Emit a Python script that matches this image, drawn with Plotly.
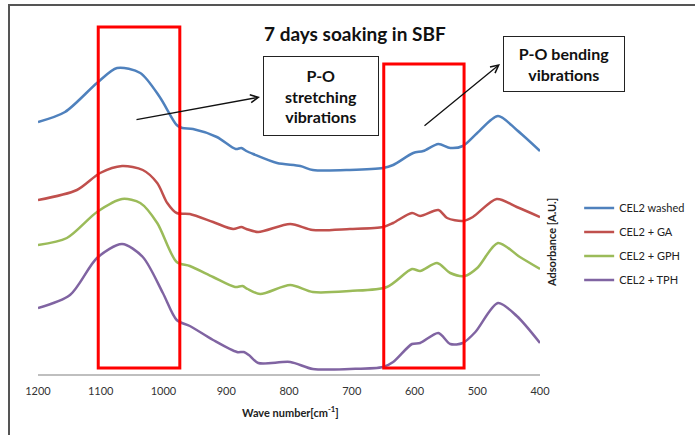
import plotly.graph_objects as go

# ---- data (wavenumber in cm-1, absorbance in arbitrary units, offset stacked) ----
wn_washed = [1200, 1157, 1106, 1074, 1037, 1006, 979, 970, 953, 915, 885, 876, 868, 857, 819, 782, 762, 703, 650, 634, 602, 586, 562, 543, 523, 500, 467, 437, 400]
a_washed = [2.52, 2.62, 2.91, 3.06, 3.01, 2.77, 2.49, 2.46, 2.45, 2.37, 2.25, 2.26, 2.23, 2.20, 2.11, 2.08, 2.04, 2.04, 2.06, 2.09, 2.21, 2.23, 2.30, 2.26, 2.28, 2.41, 2.58, 2.44, 2.23]

wn_ga = [1200, 1138, 1101, 1066, 1033, 1010, 994, 979, 958, 921, 889, 876, 868, 849, 798, 762, 703, 650, 634, 604, 591, 562, 548, 523, 507, 469, 437, 400]
a_ga = [1.74, 1.84, 2.01, 2.08, 2.04, 1.91, 1.71, 1.61, 1.60, 1.52, 1.45, 1.47, 1.45, 1.42, 1.50, 1.44, 1.45, 1.47, 1.51, 1.61, 1.58, 1.64, 1.56, 1.53, 1.57, 1.75, 1.67, 1.57]

wn_gph = [1200, 1154, 1106, 1066, 1037, 1010, 979, 958, 921, 886, 874, 866, 846, 798, 762, 703, 644, 604, 591, 564, 543, 520, 500, 467, 432, 400]
a_gph = [1.29, 1.36, 1.62, 1.75, 1.71, 1.51, 1.12, 1.08, 0.97, 0.87, 0.88, 0.85, 0.80, 0.89, 0.82, 0.83, 0.87, 1.05, 1.03, 1.11, 1.01, 0.98, 1.06, 1.31, 1.17, 1.05]

wn_tph = [1200, 1149, 1106, 1066, 1033, 1001, 979, 958, 921, 883, 872, 864, 849, 798, 762, 703, 650, 634, 604, 591, 562, 543, 523, 503, 467, 437, 400]
a_tph = [0.66, 0.79, 1.16, 1.30, 1.17, 0.81, 0.54, 0.48, 0.34, 0.22, 0.22, 0.19, 0.11, 0.12, 0.05, 0.05, 0.07, 0.12, 0.30, 0.31, 0.41, 0.30, 0.31, 0.42, 0.71, 0.58, 0.31]

series_names = ["CEL2 washed", "CEL2 + GA", "CEL2 + GPH", "CEL2 + TPH"]
series_x = [wn_washed, wn_ga, wn_gph, wn_tph]
series_y = [a_washed, a_ga, a_gph, a_tph]
colors = ["#4F81BD", "#C0504D", "#9BBB59", "#8064A2"]

tick_vals = [1200, 1100, 1000, 900, 800, 700, 600, 500, 400]
tick_text = ["1200", "1100", "1000", "900", "800", "700", "600", "500", "400"]

title_text = "7 days soaking in SBF"
x_title = "Wave number[cm<sup>-1</sup>]"
y_title = "Adsorbance [A.U.]"

FONT = "Lato, 'Open Sans', sans-serif"

fig = go.Figure()
for name, xs, ys, c in zip(series_names, series_x, series_y, colors):
    fig.add_trace(go.Scatter(x=xs, y=ys, mode="lines", name=name, legendgroup=name,
                             line=dict(color=c, width=2.5, shape="spline", smoothing=0.8)))

fig.update_layout(
    width=695, height=435,
    margin=dict(l=38, r=155, t=20, b=61, autoexpand=False),
    paper_bgcolor="white", plot_bgcolor="white",
    font=dict(family=FONT, color="#222"),
    showlegend=True,
    legend=dict(x=1.078, y=0.51, xanchor="left", yanchor="top",
                font=dict(size=11, family=FONT, color="#222"),
                itemwidth=30, tracegroupgap=5, bgcolor="rgba(0,0,0,0)"),
    xaxis=dict(range=[1200, 400], tickvals=tick_vals, ticktext=tick_text,
               showgrid=False, zeroline=False, showline=True, linecolor="#BFBFBF",
               linewidth=1.5, ticks="", tickfont=dict(size=11, color="#333"),
               ticklabelstandoff=6),
    yaxis=dict(range=[0, 3.54], visible=False),
)

# red highlight boxes
fig.add_shape(type="rect", xref="x", yref="paper", x0=1104, x1=974, y0=(374-368)/354, y1=(374-27)/354,
              line=dict(color="#FF0000", width=3))
fig.add_shape(type="rect", xref="x", yref="paper", x0=649, x1=521, y0=(374-368)/354, y1=(374-64)/354,
              line=dict(color="#FF0000", width=3))

# outer frame
fig.add_shape(type="rect", xref="paper", yref="paper", x0=(9-38)/502, x1=(702-38)/502,
              y0=(374-445)/354, y1=(374-5)/354, line=dict(color="#555", width=2))

# title
fig.add_annotation(xref="paper", yref="paper", x=(355-38)/502, y=(374-33)/354, text="<b>" + title_text + "</b>",
                   showarrow=False, font=dict(size=19, family=FONT, color="#111"), xanchor="center", yanchor="middle")
# x axis title
fig.add_annotation(xref="paper", yref="paper", x=(290-38)/502, y=(374-411)/354, text="<b>" + x_title + "</b>",
                   showarrow=False, font=dict(size=11, family=FONT, color="#222"), xanchor="center", yanchor="middle")
# y axis title
fig.add_annotation(xref="paper", yref="paper", x=(551-38)/502, y=(374-243)/354, text="<b>" + y_title + "</b>",
                   textangle=-90, showarrow=False, font=dict(size=11, family=FONT, color="#222"),
                   xanchor="center", yanchor="middle")

# text boxes
fig.add_annotation(xref="paper", yref="paper", x=(321-38)/502, y=(374-96)/354,
                   text="<b>P-O<br>stretching<br>vibrations</b>", showarrow=False,
                   font=dict(size=16, family=FONT, color="#111"), align="center",
                   width=112, height=76, bordercolor="#222", borderwidth=1, bgcolor="white",
                   xanchor="center", yanchor="middle")
fig.add_annotation(xref="paper", yref="paper", x=(564-38)/502, y=(374-64)/354,
                   text="<b>P-O bending<br>vibrations</b>", showarrow=False,
                   font=dict(size=16, family=FONT, color="#111"), align="center",
                   width=118, height=52, bordercolor="#222", borderwidth=1, bgcolor="white",
                   xanchor="center", yanchor="middle")

# arrows
fig.add_annotation(xref="paper", yref="paper", x=(260-38)/502, y=(374-97)/354, text="",
                   showarrow=True, arrowhead=5, arrowsize=1.2, arrowwidth=1.3, arrowcolor="#111",
                   ax=135-260, ay=120-97)
fig.add_annotation(xref="paper", yref="paper", x=(500-38)/502, y=(374-64)/354, text="",
                   showarrow=True, arrowhead=5, arrowsize=1.2, arrowwidth=1.3, arrowcolor="#111",
                   ax=423-500, ay=127-64)

fig.write_html("out.html", config={"displayModeBar": False},
               post_script="document.body.style.margin='0';")
